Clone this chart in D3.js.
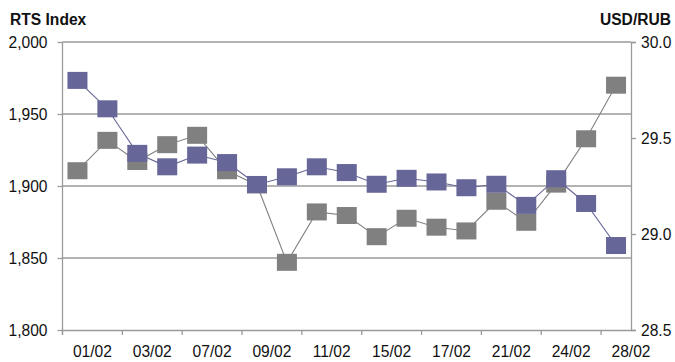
<!DOCTYPE html>
<html>
<head>
<meta charset="utf-8">
<script src="https://cdn.jsdelivr.net/npm/d3@7/dist/d3.min.js"></script>
<style>
  html, body { margin: 0; padding: 0; background: #fff; }
  svg { display: block; font-family: "Liberation Sans", Arial, Helvetica, sans-serif; }
</style>
</head>
<body>
<svg id="chart" width="675" height="362"></svg>
<script>
// Trading days, February
const dates = ["01/02","02/02","03/02","04/02","07/02","08/02","09/02","10/02","11/02","14/02",
               "15/02","16/02","17/02","18/02","21/02","22/02","24/02","25/02","28/02"];

// RTS Index (left axis)
const rts = [1910.6, 1931.7, 1917.0, 1928.7, 1935.2, 1910.6, 1900.7, 1847.0, 1882.0, 1879.5,
             1864.8, 1877.6, 1871.4, 1868.8, 1889.4, 1874.8, 1901.3, 1932.8, 1970.0];

// USD/RUB (right axis)
const usdrub = [29.80, 29.652, 29.42, 29.35, 29.411, 29.372, 29.258, 29.298, 29.35, 29.32,
                29.259, 29.29, 29.271, 29.241, 29.259, 29.149, 29.288, 29.159, 28.94];

const leftTicks = [1800, 1850, 1900, 1950, 2000];
const rightTicks = [28.5, 29.0, 29.5, 30.0];

const svg = d3.select("#chart");
const m = { left: 62.5, right: 631, top: 42, bottom: 330 };

const x = d3.scaleBand().domain(dates).range([m.left, m.right]).padding(0);
const yL = d3.scaleLinear().domain([1800, 2000]).range([m.bottom, m.top]);
const yR = d3.scaleLinear().domain([28.5, 30.0]).range([m.bottom, m.top]);

const axisColor = "#9a9a9a";
const fontSize = 15.6;

// Horizontal gridlines at the left-axis ticks
svg.append("g")
  .selectAll("line")
  .data(leftTicks.filter(d => d > 1800))
  .join("line")
  .attr("x1", m.left).attr("x2", m.right)
  .attr("y1", d => yL(d)).attr("y2", d => yL(d))
  .attr("stroke", axisColor).attr("stroke-width", 1.3);

// Left axis
const gL = svg.append("g").attr("transform", `translate(${m.left},0)`)
  .call(d3.axisLeft(yL).tickValues(leftTicks).tickSize(5).tickPadding(10)
    .tickFormat(d3.format(",")));
// Right axis
const gR = svg.append("g").attr("transform", `translate(${m.right},0)`)
  .call(d3.axisRight(yR).tickValues(rightTicks).tickSize(5).tickPadding(5)
    .tickFormat(d3.format(".1f")));
// Bottom axis: ticks every second trading day
const tickDates = dates.filter((d, i) => i % 2 === 0);
const gB = svg.append("g").attr("transform", `translate(0,${m.bottom})`)
  .call(d3.axisBottom(x).tickValues(tickDates).tickSize(5).tickSizeOuter(0).tickFormat(""));
gB.selectAll(".tick").attr("transform", d => `translate(${x(d)},0)`);

[gL, gR, gB].forEach(g => {
  g.selectAll("path.domain").attr("stroke", axisColor).attr("stroke-width", 1.3);
  g.selectAll(".tick line").attr("stroke", axisColor).attr("stroke-width", 1.3);
  g.selectAll(".tick text").attr("fill", "#111").attr("font-size", fontSize)
    .attr("font-family", "Liberation Sans, Arial, sans-serif");
});
gL.select("path.domain").attr("d", `M-0,${m.top}V${m.bottom + 5}`);

// Category labels, each centred over a two-day span
svg.append("g")
  .selectAll("text")
  .data(tickDates)
  .join("text")
  .attr("x", d => x(d) + x.step())
  .attr("y", 357)
  .attr("text-anchor", "middle")
  .attr("font-size", fontSize)
  .attr("fill", "#111")
  .text(d => d);

// Axis titles
svg.append("text").attr("x", 10).attr("y", 25)
  .attr("font-size", fontSize).attr("font-weight", "bold").attr("fill", "#111")
  .text("RTS Index");
svg.append("text").attr("x", 671).attr("y", 25).attr("text-anchor", "end")
  .attr("font-size", fontSize).attr("font-weight", "bold").attr("fill", "#111")
  .text("USD/RUB");

// Series drawing: line then square markers
function drawSeries(values, yScale, color) {
  const cx = (d, i) => x(dates[i]) + x.bandwidth() / 2;
  const line = d3.line().x((d, i) => cx(d, i)).y(d => yScale(d));
  const g = svg.append("g");
  g.append("path").datum(values)
    .attr("d", line).attr("fill", "none")
    .attr("stroke", color).attr("stroke-width", 1.1);
  const w = 20, h = 17;
  g.selectAll("rect").data(values).join("rect")
    .attr("x", (d, i) => cx(d, i) - w / 2)
    .attr("y", d => yScale(d) - h / 2)
    .attr("width", w).attr("height", h)
    .attr("fill", color);
}

drawSeries(rts, yL, "#808080");
drawSeries(usdrub, yR, "#666699");
</script>
</body>
</html>
